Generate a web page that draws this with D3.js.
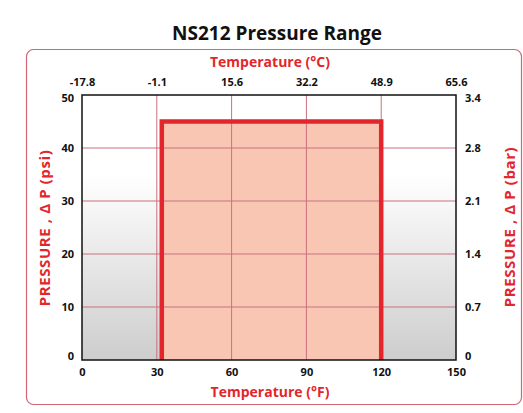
<!DOCTYPE html>
<html>
<head>
<meta charset="utf-8">
<script src="https://cdn.jsdelivr.net/npm/d3@7"></script>
<style>
  body { margin: 0; background: #fff; }
  svg text { font-family: "Open Sans", "DejaVu Sans", sans-serif; }
</style>
</head>
<body>
<svg id="chart" width="523" height="413"></svg>
<script>
// data
var fTicks = [0, 30, 60, 90, 120, 150]
var cLabels = ["-17.8", "-1.1", "15.6", "32.2", "48.9", "65.6"]
var psiTicks = [0, 10, 20, 30, 40, 50]
var barLabels = ["0", "0.7", "1.4", "2.1", "2.8", "3.4"]
var rangeF = [32, 120]   // operating temperature span, °F
var rangePsi = [0, 45]   // operating pressure span, psi

var svg = d3.select("#chart")
var plotL = 82, plotR = 456, plotT = 95, plotB = 360

var x = d3.scaleLinear().domain([0, 150]).range([plotL, plotR])
var y = d3.scaleLinear().domain([0, 50]).range([plotB, plotT])

var red = "#e3262b"
var gridColor = "#c9707e"

var defs = svg.append("defs")
var grad = defs.append("linearGradient")
  .attr("id", "bg").attr("x1", 0).attr("y1", 0).attr("x2", 0).attr("y2", 1)
grad.append("stop").attr("offset", "0%").attr("stop-color", "#ffffff")
grad.append("stop").attr("offset", "30%").attr("stop-color", "#ffffff")
grad.append("stop").attr("offset", "100%").attr("stop-color", "#cdcdcd")

// outer rounded frame
svg.append("rect")
  .attr("x", 26.5).attr("y", 49.5).attr("width", 495).attr("height", 355)
  .attr("rx", 7).attr("ry", 7)
  .attr("fill", "none").attr("stroke", "#d06578").attr("stroke-width", 1.2)

svg.append("text")
  .attr("x", 277).attr("y", 40)
  .attr("text-anchor", "middle")
  .attr("font-size", 19).attr("font-weight", "bold")
  .attr("fill", "#111")
  .text("NS212 Pressure Range")

// plot background
svg.append("rect")
  .attr("x", plotL).attr("y", plotT)
  .attr("width", plotR - plotL).attr("height", plotB - plotT)
  .attr("fill", "url(#bg)")

// operating area
svg.append("rect")
  .attr("x", x(rangeF[0])).attr("y", y(rangePsi[1]))
  .attr("width", x(rangeF[1]) - x(rangeF[0]))
  .attr("height", y(rangePsi[0]) - y(rangePsi[1]))
  .attr("fill", "#f9c6b3")

// grid
svg.selectAll(".vgrid").data(fTicks.slice(1, -1)).enter().append("line")
  .attr("class", "vgrid")
  .attr("x1", function(d) { return x(d) }).attr("x2", function(d) { return x(d) })
  .attr("y1", plotT).attr("y2", plotB)
  .attr("stroke", gridColor).attr("stroke-width", 1)

svg.selectAll(".hgrid").data(psiTicks.slice(1, -1)).enter().append("line")
  .attr("class", "hgrid")
  .attr("y1", function(d) { return y(d) }).attr("y2", function(d) { return y(d) })
  .attr("x1", plotL).attr("x2", plotR)
  .attr("stroke", gridColor).attr("stroke-width", 1)

// range outline (open at the bottom)
var outline = d3.line()([
  [x(rangeF[0]), y(rangePsi[0])],
  [x(rangeF[0]), y(rangePsi[1])],
  [x(rangeF[1]), y(rangePsi[1])],
  [x(rangeF[1]), y(rangePsi[0])]
])
svg.append("path")
  .attr("d", outline)
  .attr("fill", "none").attr("stroke", red).attr("stroke-width", 4.5)

// plot frame
svg.append("rect")
  .attr("x", plotL).attr("y", plotT)
  .attr("width", plotR - plotL).attr("height", plotB - plotT)
  .attr("fill", "none").attr("stroke", "#111").attr("stroke-width", 1.5)

// axes
var tickFont = function(g) {
  g.select(".domain").remove()
  g.selectAll(".tick line").remove()
  g.selectAll("text")
    .attr("font-size", 11).attr("font-weight", "bold")
    .attr("fill", "#111")
    .style("font-family", "'Liberation Sans Narrow', 'Open Sans', sans-serif")
}
// end labels sit a little inside the frame
var yLabelShift = function(g) {
  g.selectAll("text").attr("dy", function(d) {
    if (d == psiTicks[0]) return "-0.05em"
    if (d == psiTicks[psiTicks.length - 1]) return "0.6em"
    return "0.32em"
  })
}

svg.append("g")
  .attr("transform", "translate(0," + plotB + ")")
  .call(d3.axisBottom(x).tickValues(fTicks).tickSize(0).tickPadding(8))
  .call(tickFont)

svg.append("g")
  .attr("transform", "translate(0," + plotT + ")")
  .call(d3.axisTop(x).tickValues(fTicks).tickSize(0).tickPadding(9)
    .tickFormat(function(d, i) { return cLabels[i] }))
  .call(tickFont)

svg.append("g")
  .attr("transform", "translate(" + plotL + ",0)")
  .call(d3.axisLeft(y).tickValues(psiTicks).tickSize(0).tickPadding(8))
  .call(tickFont)
  .call(yLabelShift)

svg.append("g")
  .attr("transform", "translate(" + plotR + ",0)")
  .call(d3.axisRight(y).tickValues(psiTicks).tickSize(0).tickPadding(9)
    .tickFormat(function(d, i) { return barLabels[i] }))
  .call(tickFont)
  .call(yLabelShift)

// axis titles
var titleStyle = function(t) {
  t.attr("fill", red).attr("font-size", 14).attr("font-weight", "bold")
    .attr("text-anchor", "middle")
}
svg.append("text").attr("x", 270).attr("y", 67).call(titleStyle).text("Temperature (°C)")
svg.append("text").attr("x", 270).attr("y", 397).call(titleStyle).text("Temperature (°F)")
svg.append("text")
  .attr("transform", "translate(50,228) rotate(-90)")
  .call(titleStyle).attr("font-size", 15).style("letter-spacing", "0.6px")
  .text("PRESSURE , Δ P (psi)")
svg.append("text")
  .attr("transform", "translate(515,227) rotate(-90)")
  .call(titleStyle).attr("font-size", 15).style("letter-spacing", "0.6px")
  .text("PRESSURE , Δ P (bar)")
</script>
</body>
</html>
